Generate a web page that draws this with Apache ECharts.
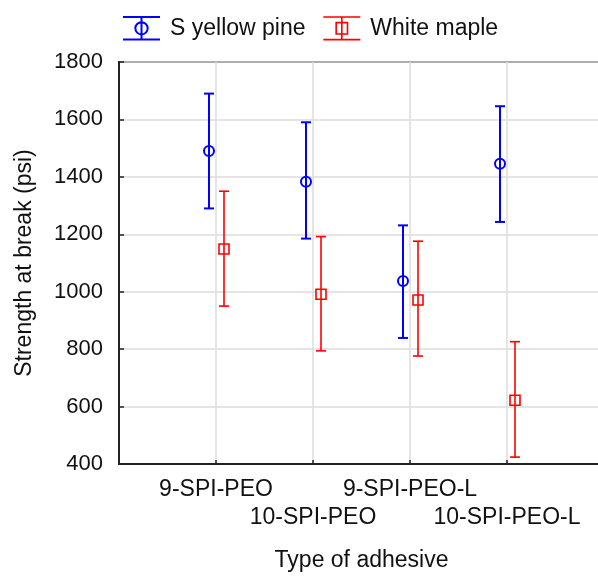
<!DOCTYPE html>
<html>
<head>
<meta charset="utf-8">
<script src="https://cdn.jsdelivr.net/npm/echarts@6/dist/echarts.min.js"></script>
<style>
html,body{margin:0;padding:0;background:#fff;overflow:hidden;width:598px;height:577px;}
#chart{width:607px;height:577px;}
</style>
</head>
<body>
<div id="chart"></div>
<script>
const categories = ['9-SPI-PEO', '10-SPI-PEO', '9-SPI-PEO-L', '10-SPI-PEO-L'];
const pineMean = [1490, 1383, 1037, 1446];
const pineLow  = [1290, 1185, 839, 1243];
const pineHigh = [1690, 1590, 1231, 1646];
const mapleMean = [1149, 991, 971, 622];
const mapleLow  = [950, 794, 776, 424];
const mapleHigh = [1350, 1192, 1176, 826];
const yMin = 400, yMax = 1800, yStep = 200;

const FONT = 'Arial, "Liberation Sans", sans-serif';
const TXT = '#111';

function buildData(mean, low, high) {
  return categories.map((c, i) => [i + 1, mean[i], low[i], high[i]]);
}

function makeRender(color, lw, shape, dx) {
  return function (params, api) {
    const x = api.value(0), m = api.value(1), lo = api.value(2), hi = api.value(3);
    const pm = api.coord([x, m]);
    const pl = api.coord([x, lo]);
    const ph = api.coord([x, hi]);
    const cx = pm[0] + dx;
    const capW = 5;
    const st = { stroke: color, lineWidth: lw, fill: null };
    const children = [
      { type: 'line', shape: { x1: cx, y1: ph[1], x2: cx, y2: pl[1] }, style: st },
      { type: 'line', shape: { x1: cx - capW, y1: ph[1], x2: cx + capW, y2: ph[1] }, style: st },
      { type: 'line', shape: { x1: cx - capW, y1: pl[1], x2: cx + capW, y2: pl[1] }, style: st }
    ];
    if (shape === 'circle') {
      children.push({ type: 'circle', shape: { cx: cx, cy: pm[1], r: 5 }, style: { stroke: color, lineWidth: lw, fill: '#fff' } });
      children.push({ type: 'line', shape: { x1: cx, y1: pm[1] - 5, x2: cx, y2: pm[1] + 5 }, style: st });
    } else {
      children.push({ type: 'rect', shape: { x: cx - 5, y: pm[1] - 5, width: 10, height: 10 }, style: { stroke: color, lineWidth: lw, fill: '#fff' } });
      children.push({ type: 'line', shape: { x1: cx, y1: pm[1] - 5, x2: cx, y2: pm[1] + 5 }, style: st });
    }
    return { type: 'group', children: children };
  };
}

const iconCircle = 'path://M0,0 L36,0 M0,22 L36,22 M18,0 L18,22 M12,11 A6,6 0 1,0 24,11 A6,6 0 1,0 12,11 Z';
const iconSquare = 'path://M0,0 L36,0 M0,22 L36,22 M18,0 L18,22 M12.5,5.5 L23.5,5.5 L23.5,16.5 L12.5,16.5 Z';

const chart = echarts.init(document.getElementById('chart'), null, { renderer: 'canvas' });
chart.setOption({
  animation: false,
  backgroundColor: '#fff',
  textStyle: { fontFamily: FONT, color: TXT },
  legend: {
    left: 117, top: 11,
    itemWidth: 37, itemHeight: 23, itemGap: 17,
    textStyle: { fontFamily: FONT, fontSize: 23, color: TXT, padding: [0, 0, 0, 5] },
    data: [
      { name: 'S yellow pine', icon: iconCircle, itemStyle: { color: '#fff', borderColor: '#0000ff', borderWidth: 2 } },
      { name: 'White maple', icon: iconSquare, itemStyle: { color: '#fff', borderColor: '#ff0000', borderWidth: 1.6 } }
    ]
  },
  grid: {
    left: 119, top: 62, right: 0, bottom: 110,
    show: true, borderColor: '#222', borderWidth: 2, backgroundColor: 'transparent'
  },
  xAxis: {
    type: 'value', min: 0, max: 5, interval: 1,
    name: 'Type of adhesive', nameLocation: 'middle', nameGap: 85,
    nameTextStyle: { fontFamily: FONT, fontSize: 23, color: TXT },
    axisLine: { show: true, lineStyle: { color: '#222', width: 2 } },
    axisTick: { show: true, inside: true, length: 4, lineStyle: { color: '#222', width: 1.5 } },
    splitLine: { show: true, lineStyle: { color: '#dcdcdc', width: 1.5 } },
    axisLabel: {
      margin: 12, fontFamily: FONT, fontSize: 23, color: TXT, lineHeight: 28,
      formatter: function (v) {
        const i = Math.round(v) - 1;
        if (i < 0 || i >= categories.length) return '';
        return (i % 2 === 1 ? '\n' : '') + categories[i];
      }
    }
  },
  yAxis: {
    type: 'value', min: yMin, max: yMax, interval: yStep,
    name: 'Strength at break (psi)', nameLocation: 'middle', nameGap: 83,
    nameTextStyle: { fontFamily: FONT, fontSize: 23, color: TXT },
    axisLine: { show: true, lineStyle: { color: '#222', width: 2 } },
    axisTick: { show: true, inside: true, length: 5, lineStyle: { color: '#222', width: 1.5 } },
    splitLine: { show: true, lineStyle: { color: '#dcdcdc', width: 1.5 } },
    axisLabel: { margin: 16, fontFamily: FONT, fontSize: 22, color: TXT, formatter: function (v) { return String(v); } }
  },
  series: [
    {
      name: 'S yellow pine', type: 'custom',
      itemStyle: { color: '#0000ff' },
      renderItem: makeRender('#0000ff', 2, 'circle', -7),
      data: buildData(pineMean, pineLow, pineHigh),
      clip: false
    },
    {
      name: 'White maple', type: 'custom',
      itemStyle: { color: '#ff0000' },
      renderItem: makeRender('#ff0000', 1.6, 'square', 8),
      data: buildData(mapleMean, mapleLow, mapleHigh),
      clip: false
    }
  ]
});
</script>
</body>
</html>
